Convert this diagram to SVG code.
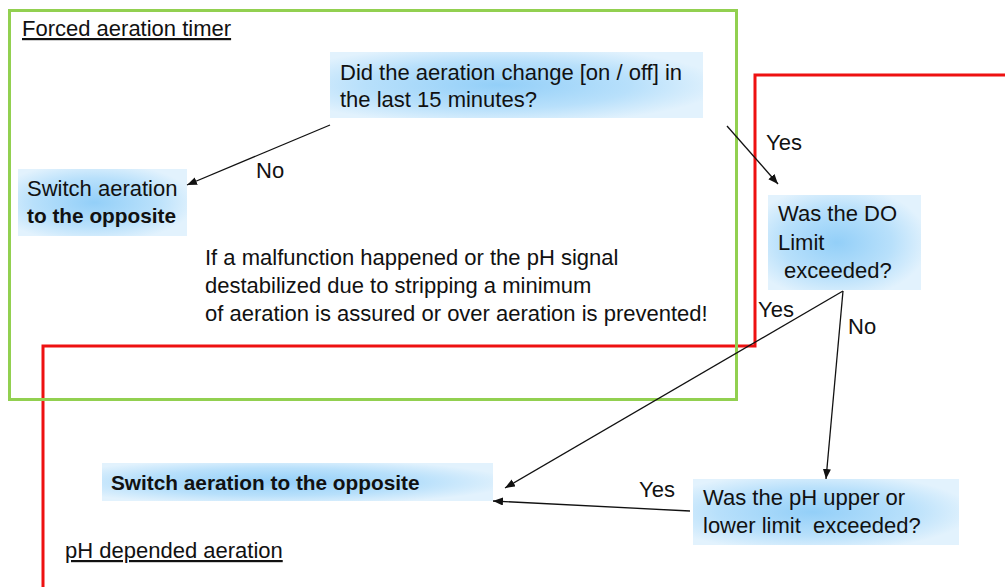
<svg xmlns="http://www.w3.org/2000/svg" width="1005" height="587" viewBox="0 0 1005 587">
<style>
text{font-family:"Liberation Sans",Arial,sans-serif;font-size:22px;fill:#111}
.b{font-weight:bold;font-size:20.8px}
.u{text-decoration:underline}
.box{fill:url(#g);stroke:none}
.c{stroke:#111;stroke-width:1.3;fill:none;marker-end:url(#ah)}
</style>
<defs>
<radialGradient id="g" cx="0.45" cy="0.5" r="0.6">
<stop offset="0" stop-color="#93cff8"/>
<stop offset="0.6" stop-color="#b8e0fb"/>
<stop offset="1" stop-color="#e2f2fd"/>
</radialGradient>
<marker id="ah" markerUnits="userSpaceOnUse" markerWidth="12" markerHeight="10" refX="10" refY="4" orient="auto">
<path d="M0,0 L10,4 L0,8 Z" fill="#111"/>
</marker>
</defs>
<g id="regions">
<polyline points="1005,75 755,75 755,346 43,346 43,587" fill="none" stroke="#ee1111" stroke-width="3"/>
<rect x="9.5" y="10.5" width="727" height="389" fill="none" stroke="#92d050" stroke-width="3"/>
<text x="22" y="36" class="u">Forced aeration timer</text>
<text x="65" y="558" class="u">pH depended aeration</text>
<text x="205" y="265">If a malfunction happened or the pH signal</text>
<text x="205" y="293">destabilized due to stripping a minimum</text>
<text x="205" y="321">of aeration is assured or over aeration is prevented!</text>
</g>
<g id="q1">
<rect class="box" x="330" y="52" width="373" height="66"/>
<text x="340" y="80">Did the aeration change [on / off] in</text>
<text x="340" y="107">the last 15 minutes?</text>
</g>
<g id="switch1">
<rect class="box" x="18" y="169" width="169" height="67"/>
<text x="27" y="196">Switch aeration</text>
<text x="27" y="223" class="b">to the opposite</text>
</g>
<g id="q2">
<rect class="box" x="768" y="195" width="153" height="95"/>
<text x="778" y="221">Was the DO</text>
<text x="778" y="250">Limit</text>
<text x="778" y="278" xml:space="preserve"> exceeded?</text>
</g>
<g id="switch2">
<rect class="box" x="102" y="463" width="391" height="38"/>
<text x="111" y="490" class="b">Switch aeration to the opposite</text>
</g>
<g id="q3">
<rect class="box" x="693" y="479" width="266" height="66"/>
<text x="703" y="505">Was the pH upper or</text>
<text x="703" y="533" xml:space="preserve">lower limit  exceeded?</text>
</g>
<g id="connectors">
<line class="c" x1="330" y1="125" x2="187" y2="185"/>
<line class="c" x1="727" y1="126" x2="778" y2="184"/>
<line class="c" x1="843" y1="291" x2="505" y2="488"/>
<line class="c" x1="843" y1="291" x2="826" y2="479"/>
<line class="c" x1="690" y1="511" x2="493" y2="501"/>
<text x="256" y="178">No</text>
<text x="766" y="150">Yes</text>
<text x="758" y="317">Yes</text>
<text x="848" y="334">No</text>
<text x="639" y="497">Yes</text>
</g>
</svg>
